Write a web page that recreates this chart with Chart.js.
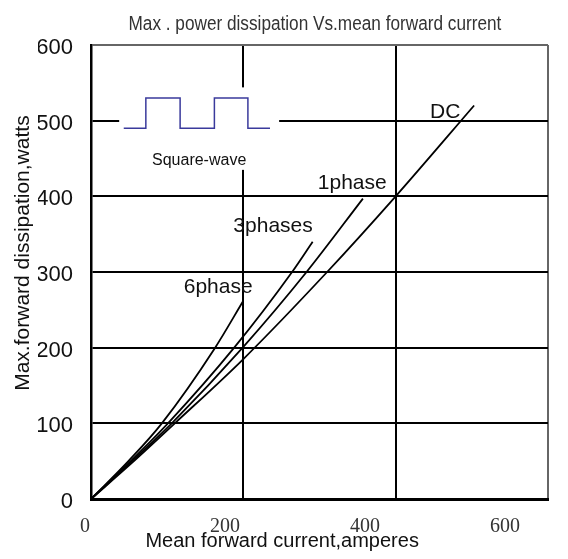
<!DOCTYPE html>
<html>
<head>
<meta charset="utf-8">
<script src="https://cdn.jsdelivr.net/npm/chart.js@4/dist/chart.umd.min.js"></script>
<style>
  html, body { margin: 0; padding: 0; background: #fff; }
  #wrap { width: 568px; height: 559px; }
</style>
</head>
<body>
<div id="wrap"><canvas id="c" width="568" height="559"></canvas></div>
<script>
// ---- data ----
const dcCurrent      = [0, 53, 110, 200, 310, 400, 503];
const dcPower        = [0, 47, 100, 185, 300, 400, 520];
const onePhCurrent   = [0, 53, 106, 200, 283, 357];
const onePhPower     = [0, 49, 100, 201, 300, 397];
const threePhCurrent = [0, 52, 101, 188, 264, 291];
const threePhPower   = [0, 50, 100, 200, 300, 340];
const sixPhCurrent   = [0, 50, 93, 163, 200];
const sixPhPower     = [0, 51, 100, 200, 262];
const squareWaveX    = [43, 72, 72, 117, 117, 162, 162, 206, 206, 235];
const squareWaveY    = [490, 490, 530, 530, 490, 490, 530, 530, 490, 490];
const xTickValues    = [0, 200, 400, 600];
const yTickValues    = [0, 100, 200, 300, 400, 500, 600];
const curveLabels    = ['DC', '1phase', '3phases', '6phase'];

const pts = (xs, ys) => xs.map((x, i) => ({ x: x, y: ys[i] }));

// label anchors (data units)
const labelPos = [
  { text: curveLabels[0], x: 465, y: 511 },
  { text: curveLabels[1], x: 343, y: 418 },
  { text: curveLabels[2], x: 239, y: 361 },
  { text: curveLabels[3], x: 167, y: 280 }
];

const curveStyle = { borderColor: '#000', borderWidth: 1.8, pointRadius: 0, showLine: true,
                     fill: false, cubicInterpolationMode: 'monotone' };

const SANS = '"Liberation Sans", Arial, sans-serif';

const decor = {
  id: 'decor',
  beforeDatasetsDraw(chart) {
    const { ctx, scales: { x, y } } = chart;
    ctx.save();
    ctx.fillStyle = '#fff';
    const l = x.getPixelForValue(37), r = x.getPixelForValue(247);
    const t = y.getPixelForValue(544), b = y.getPixelForValue(435);
    ctx.fillRect(l, t, r - l, b - t);
    ctx.restore();
  },
  afterDatasetsDraw(chart) {
    const { ctx, scales: { x, y }, chartArea } = chart;
    ctx.save();
    // chart title (condensed, as in the reference)
    ctx.fillStyle = '#333';
    ctx.textAlign = 'center';
    ctx.textBaseline = 'alphabetic';
    ctx.font = '20px ' + SANS;
    ctx.save();
    ctx.translate(x.getPixelForValue(294), chartArea.top - 15);
    ctx.scale(0.86, 1);
    ctx.fillText('Max . power dissipation Vs.mean forward current', 0, 0);
    ctx.restore();

    ctx.fillStyle = '#111';
    ctx.textBaseline = 'middle';
    ctx.font = '21px ' + SANS;
    labelPos.forEach(p => ctx.fillText(p.text, x.getPixelForValue(p.x), y.getPixelForValue(p.y)));
    ctx.font = '16px ' + SANS;
    ctx.fillText('Square-wave', x.getPixelForValue(142), y.getPixelForValue(447));
    // axis titles
    ctx.font = '20px ' + SANS;
    ctx.fillText('Mean forward current,amperes', x.getPixelForValue(251), chartArea.bottom + 42);
    ctx.font = '21px ' + SANS;
    ctx.translate(chartArea.left - 68, y.getPixelForValue(325));
    ctx.rotate(-Math.PI / 2);
    ctx.fillText('Max.forward dissipation,watts', 0, 0);
    ctx.restore();
  }
};

new Chart(document.getElementById('c'), {
  type: 'scatter',
  data: {
    datasets: [
      Object.assign({ label: 'DC', data: pts(dcCurrent, dcPower) }, curveStyle),
      Object.assign({ label: '1phase', data: pts(onePhCurrent, onePhPower) }, curveStyle),
      Object.assign({ label: '3phases', data: pts(threePhCurrent, threePhPower) }, curveStyle),
      Object.assign({ label: '6phase', data: pts(sixPhCurrent, sixPhPower) }, curveStyle),
      { label: 'Square-wave', data: pts(squareWaveX, squareWaveY), showLine: true, tension: 0,
        borderColor: '#3a3a9c', borderWidth: 1.5, pointRadius: 0, fill: false }
    ]
  },
  options: {
    responsive: false,
    animation: false,
    layout: { padding: { left: 38, right: 20, top: 45, bottom: 0 } },
    plugins: {
      legend: { display: false },
      tooltip: { enabled: false },
      title: { display: false }
    },
    scales: {
      x: {
        type: 'linear', position: 'bottom', min: 0, max: 600,
        ticks: { display: false, stepSize: 200 },
        afterBuildTicks: a => { a.ticks = xTickValues.map(v => ({ value: v })); },
        grid: { drawTicks: false, lineWidth: 2,
                color: c => (c.tick && c.tick.value === 600) ? '#666' : '#000' },
        border: { color: '#000', width: 3 },
        afterFit: s => { s.height = 0; }
      },
      x2: {
        type: 'linear', position: 'bottom', min: 8.6, max: 661.5,
        afterBuildTicks: a => { a.ticks = xTickValues.map(v => ({ value: v })); },
        ticks: { autoSkip: false, maxRotation: 0, color: '#333', padding: 16,
                 font: { family: '"Liberation Serif", "Times New Roman", serif', size: 20 } },
        grid: { display: false, drawTicks: false },
        border: { display: false },
        afterFit: s => { s.height = 60; }
      },
      y: {
        type: 'linear', min: 0, max: 600,
        afterBuildTicks: a => { a.ticks = yTickValues.map(v => ({ value: v })); },
        ticks: { color: '#111', padding: 18, labelOffset: 3,
                 font: { family: SANS, size: 22 } },
        grid: { drawTicks: false, lineWidth: 2,
                color: c => (c.tick && c.tick.value === 600) ? '#666' : '#000' },
        border: { color: '#000', width: 2.5 },
        afterFit: s => { s.width = 53; }
      }
    }
  },
  plugins: [decor]
});
</script>
</body>
</html>
